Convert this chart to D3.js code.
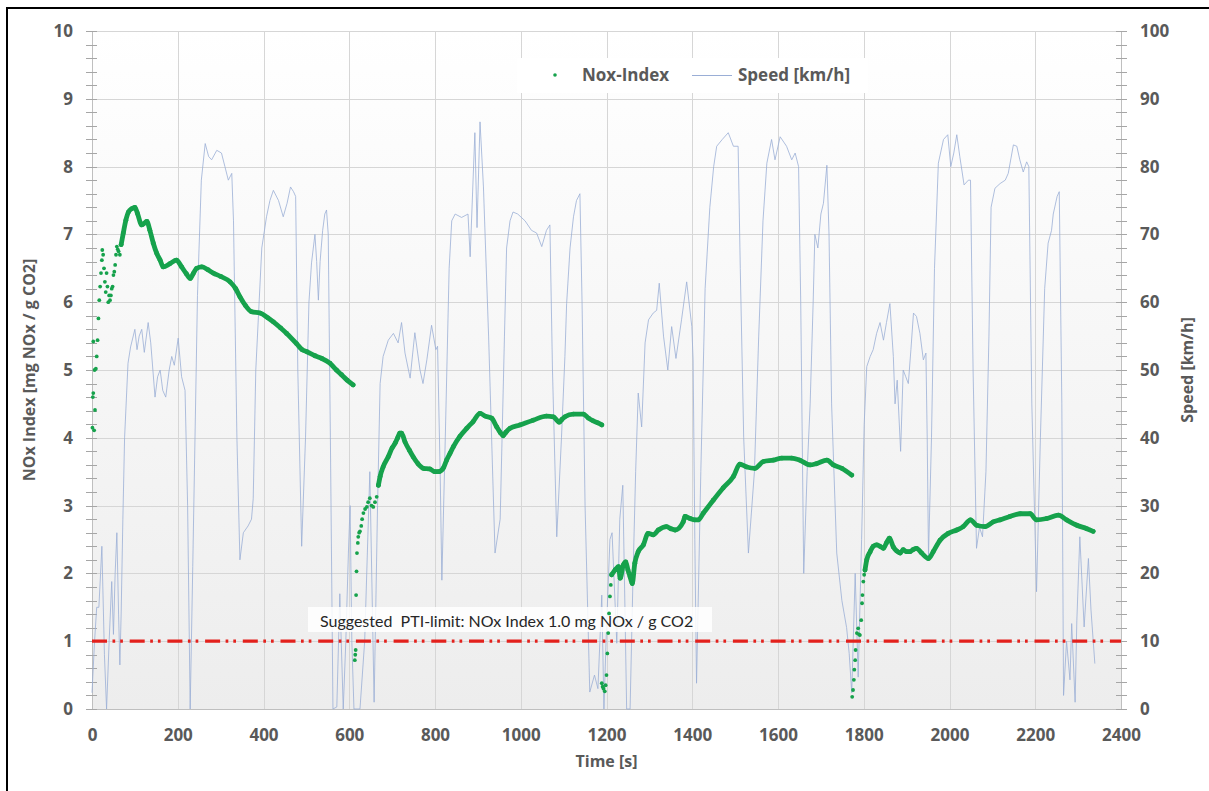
<!DOCTYPE html>
<html>
<head>
<meta charset="utf-8">
<script src="https://cdn.jsdelivr.net/npm/d3@7"></script>
<style>
  body { margin: 0; background: #fff; }
  svg { display: block; }
  text { font-family: "Open Sans", "DejaVu Sans", sans-serif; }
</style>
</head>
<body>
<svg id="chart" width="1209" height="791"></svg>
<script>
// ---- Data -------------------------------------------------------------
const timeTicks = [0, 200, 400, 600, 800, 1000, 1200, 1400, 1600, 1800, 2000, 2200, 2400];
const noxTicks = [0, 1, 2, 3, 4, 5, 6, 7, 8, 9, 10];
const speedTicks = [0, 10, 20, 30, 40, 50, 60, 70, 80, 90, 100];
const ptiLimit = 1.0;

// Vehicle speed [km/h] over time [s]
const speedTrace = [
  [0,2.4],[6,10],[11,15],[16,15],[20,20],[23,24],[29,8],[34,0],[40,10],[46,18.8],[50,11],[54,20],[58,26],
  [62,14],[65,6.5],[68,14],[72,28],[76,40],[84,51],[90,53.4],[100,56],[105,53],[110,55],[116,56],[122,52.6],
  [131,57],[137,54],[147,46],[153,49],[159,50],[165,47],[172,46],[180,50],[186,52],[192,50.7],[201,54.7],
  [209,49],[217,47],[223,30],[229,0],[235,21],[246,61],[255,78],[264,83.4],[272,81.5],[279,81],[291,82.4],
  [302,82],[310,80],[318,78],[326,79],[330,72],[338,40],[345,22],[353,26],[364,27],[372,28],[376,31],
  [382,50],[396,68],[407,72.6],[415,75],[423,76.5],[435,75],[446,72.6],[455,74.6],[463,77],[470,76.3],
  [475,75.6],[480,50],[489,24],[498,40],[506,60],[512,65.8],[520,70],[524,66],[528,60.3],[532,66],
  [538,70.6],[543,73],[547,73.6],[551,70],[556,40],[562,0],[571,0.3],[578,17],[586,0],[592,10],[598,23],
  [602,30],[606,10],[611,0],[625,0],[636,10],[648,35],[658,1],[666,30],[672,48],[679,52],[691,54.4],
  [703,55.4],[714,54],[722,57],[730,52.5],[742,48.8],[753,55.5],[765,50],[772,48],[781,51.5],[792,56.6],
  [802,53],[806,53.5],[812,35],[816,19],[824,40],[833,65],[839,72],[847,73],[862,72.5],[877,73],
  [882,66.7],[893,85],[898,71],[905,86.6],[913,77],[925,55],[940,23],[952,28],[962,55],[967,68],[975,72],
  [982,73.3],[993,73],[1010,72],[1025,70.6],[1037,70.2],[1049,68.2],[1060,70.6],[1068,71.4],[1074,50],
  [1084,25.4],[1095,40],[1103,52],[1107,59.8],[1115,68],[1123,72.6],[1130,75],[1138,76],[1143,60],
  [1150,30],[1161,2.5],[1172,5],[1180,3],[1189,16.8],[1194,0],[1200,12],[1208,25],[1213,26],[1224,9.7],
  [1231,28],[1238,33],[1243,15],[1247,0],[1255,0],[1262,20],[1268,35],[1274,46.6],[1282,41.6],[1290,54],
  [1298,57.4],[1309,58.4],[1317,58.8],[1323,62.8],[1333,55],[1343,50],[1352,56.4],[1362,51.7],[1375,57.4],
  [1387,63],[1399,56.4],[1402,51.5],[1406,25],[1410,3.8],[1420,35],[1430,62],[1441,74],[1450,80],
  [1457,83],[1470,84],[1484,85],[1496,83],[1507,83],[1512,65],[1520,40],[1531,23],[1545,35],[1555,55],
  [1565,72],[1574,80.5],[1585,84],[1593,81],[1605,84.4],[1620,83],[1632,81],[1640,82],[1648,80],
  [1653,60],[1660,20],[1668,35],[1675,45],[1682,60],[1686,70],[1693,68],[1700,73],[1706,74.6],[1714,80.2],
  [1719,70],[1725,45],[1737,23],[1749,16],[1760,12],[1766,8.2],[1772,2.4],[1780,20],[1787,4.7],[1795,25],
  [1801,42],[1807,50.5],[1815,52],[1822,53],[1830,55.4],[1838,57],[1846,54.4],[1853,57],[1861,59.8],
  [1869,52],[1873,45],[1878,48.5],[1886,38],[1892,50],[1898,49],[1904,48],[1910,53],[1916,58.4],
  [1923,57.9],[1931,55.4],[1939,51.5],[1945,52.5],[1948,40],[1951,22.5],[1958,40],[1965,65],[1974,80.5],
  [1986,84],[1996,84.7],[2003,80],[2010,82],[2017,84.7],[2024,81.5],[2034,77.3],[2044,78],[2049,78],
  [2055,50],[2063,23.7],[2070,26.8],[2077,25.4],[2085,35],[2092,55],[2097,74],[2106,76.8],[2118,77.5],
  [2130,78],[2137,79],[2149,83.2],[2157,83],[2164,81],[2172,79.2],[2180,80.7],[2185,80],[2192,45],
  [2203,17.3],[2212,40],[2222,62],[2230,68.7],[2238,70.6],[2242,73],[2251,75.6],[2256,76.3],[2262,45],
  [2266,2],[2273,10],[2281,4.3],[2285,12.6],[2293,1],[2297,13],[2304,25.4],[2314,12.1],[2324,22.2],
  [2330,14.6],[2339,6.7]
];

// NOx index [mg NOx / g CO2] – warm-up samples of each trip (scattered)
const noxWarmup = [
  [1,4.15],[2,4.6],[3,5.42],[3,4.66],[5,4.11],[6,5.0],[7,4.41],[9,5.02],[11,5.2],[13,5.44],[15,5.76],
  [17,6.03],[19,6.23],[21,6.43],[23,6.62],[24,6.77],[26,6.7],[28,6.5],[30,6.3],[32,6.15],[34,6.43],
  [36,6.23],[38,6.0],[40,6.1],[42,6.03],[44,6.1],[46,6.2],[48,6.23],[50,6.4],[52,6.45],[54,6.55],
  [56,6.7],[58,6.82],[60,6.78],[62,6.75],[65,6.7],[68,6.85],
  [613,0.72],[614,0.8],[615,0.87],[616,1.68],[617,2.03],[618,2.3],[620,2.45],[621,2.54],[623,2.6],
  [625,2.62],[628,2.7],[630,2.8],[633,2.89],[637,2.95],[641,2.98],[644,3.05],[648,3.11],[652,3.0],
  [656,2.98],[660,3.05],[664,3.13],[668,3.3],
  [1189,0.38],[1191,0.33],[1193,0.3],[1196,0.26],[1198,0.35],[1200,0.5],[1202,0.82],[1204,1.12],
  [1206,1.41],[1208,1.66],[1210,1.83],[1212,1.98],
  [1773,0.18],[1775,0.28],[1777,0.43],[1778,0.58],[1780,0.72],[1781,0.87],[1784,1.12],[1787,1.19],
  [1789,1.1],[1791,1.09],[1794,1.31],[1796,1.56],[1797,1.68],[1799,1.88],[1801,1.98],[1803,2.05]
];

// NOx index – running values once each trip has settled
const noxTrip1 = [
  [68,6.85],[73,7.02],[79,7.21],[85,7.33],[93,7.38],[100,7.4],[106,7.31],[116,7.14],[128,7.19],[135,7.06],
  [143,6.87],[151,6.72],[159,6.62],[166,6.52],[182,6.57],[197,6.62],[209,6.52],[220,6.42],[229,6.35],
  [236,6.42],[244,6.5],[256,6.52],[270,6.48],[283,6.43],[300,6.38],[322,6.3],[335,6.2],[345,6.08],
  [358,5.95],[372,5.86],[392,5.84],[410,5.77],[423,5.71],[440,5.62],[454,5.54],[477,5.39],[490,5.3],
  [501,5.27],[520,5.21],[536,5.17],[555,5.1],[570,5.0],[582,4.93],[595,4.85],[609,4.78]
];
const noxTrip2 = [
  [668,3.3],[672,3.43],[679,3.57],[691,3.72],[700,3.85],[707,3.92],[713,4.0],[718,4.07],[722,4.07],
  [730,3.94],[740,3.82],[749,3.72],[760,3.62],[773,3.55],[788,3.54],[800,3.5],[808,3.5],[819,3.55],
  [827,3.67],[835,3.77],[843,3.87],[858,4.02],[874,4.14],[889,4.24],[905,4.36],[917,4.32],[932,4.29],
  [944,4.16],[952,4.08],[959,4.03],[965,4.08],[975,4.14],[998,4.19],[1029,4.26],[1060,4.32],[1076,4.31],
  [1090,4.23],[1096,4.27],[1103,4.31],[1123,4.35],[1146,4.35],[1158,4.29],[1169,4.25],[1180,4.22],[1189,4.19]
];
const noxTrip3 = [
  [1212,1.98],[1220,2.05],[1228,2.1],[1232,1.93],[1239,2.12],[1245,2.17],[1250,2.05],[1255,1.95],
  [1260,1.85],[1266,2.15],[1274,2.32],[1286,2.42],[1297,2.59],[1309,2.57],[1321,2.64],[1340,2.69],
  [1350,2.66],[1360,2.64],[1379,2.76],[1383,2.84],[1395,2.81],[1406,2.79],[1414,2.79],[1426,2.89],
  [1449,3.08],[1472,3.26],[1496,3.43],[1511,3.61],[1527,3.57],[1546,3.55],[1566,3.65],[1589,3.67],
  [1609,3.7],[1632,3.7],[1651,3.67],[1675,3.6],[1690,3.62],[1714,3.67],[1729,3.6],[1749,3.55],[1772,3.45]
];
const noxTrip4 = [
  [1803,2.05],[1807,2.2],[1815,2.32],[1822,2.4],[1830,2.42],[1838,2.4],[1846,2.37],[1853,2.45],
  [1860,2.52],[1869,2.39],[1877,2.33],[1885,2.3],[1892,2.35],[1900,2.32],[1908,2.32],[1915,2.35],
  [1923,2.37],[1935,2.3],[1951,2.22],[1962,2.32],[1978,2.49],[1997,2.59],[2017,2.64],[2032,2.69],
  [2049,2.79],[2063,2.71],[2083,2.69],[2102,2.76],[2118,2.79],[2141,2.84],[2165,2.88],[2188,2.88],
  [2203,2.79],[2227,2.81],[2254,2.86],[2273,2.79],[2297,2.71],[2320,2.66],[2335,2.62]
];

// ---- Layout -----------------------------------------------------------
const plot = { left: 92, right: 1121, top: 31, bottom: 709 };
const green = "#16a24c";
const speedColor = "#9aaed6";
const axisGray = "#595959";

const svg = d3.select("#chart");

const x = d3.scaleLinear().domain([0, 2400]).range([plot.left, plot.right]);
const yNox = d3.scaleLinear().domain([0, 10]).range([plot.bottom, plot.top]);
const ySpeed = d3.scaleLinear().domain([0, 100]).range([plot.bottom, plot.top]);

// outer frame (top and left edges)
svg.append("line").attr("x1", 6).attr("x2", 1209).attr("y1", 8).attr("y2", 8)
  .attr("stroke", "#000").attr("stroke-width", 2);
svg.append("line").attr("x1", 7).attr("x2", 7).attr("y1", 7).attr("y2", 791)
  .attr("stroke", "#000").attr("stroke-width", 2);

// plot background gradient
const defs = svg.append("defs");
const grad = defs.append("linearGradient").attr("id", "plotBg")
  .attr("x1", 0).attr("y1", 0).attr("x2", 0).attr("y2", 1);
grad.append("stop").attr("offset", "0%").attr("stop-color", "#ffffff");
grad.append("stop").attr("offset", "100%").attr("stop-color", "#ededed");
svg.append("rect")
  .attr("x", plot.left).attr("y", plot.top)
  .attr("width", plot.right - plot.left).attr("height", plot.bottom - plot.top)
  .attr("fill", "url(#plotBg)");

// gridlines
const grid = svg.append("g").attr("stroke", "#d6d6d6").attr("stroke-width", 1);
grid.selectAll("line.v").data(timeTicks).join("line").attr("class", "v")
  .attr("x1", d => Math.round(x(d)) + 0.5).attr("x2", d => Math.round(x(d)) + 0.5)
  .attr("y1", plot.top).attr("y2", plot.bottom);
grid.selectAll("line.h").data(noxTicks).join("line").attr("class", "h")
  .attr("x1", plot.left).attr("x2", plot.right)
  .attr("y1", d => Math.round(yNox(d)) + 0.5).attr("y2", d => Math.round(yNox(d)) + 0.5);

// axis lines
svg.append("line").attr("x1", plot.left + 0.5).attr("x2", plot.left + 0.5)
  .attr("y1", plot.top).attr("y2", plot.bottom).attr("stroke", "#bfbfbf");
svg.append("line").attr("x1", plot.right + 0.5).attr("x2", plot.right + 0.5)
  .attr("y1", plot.top).attr("y2", plot.bottom).attr("stroke", "#bfbfbf");
svg.append("line").attr("x1", plot.left).attr("x2", plot.right)
  .attr("y1", plot.bottom + 0.5).attr("y2", plot.bottom + 0.5).attr("stroke", "#bfbfbf");

// minor tick marks crossing both value axes
const noxMinor = d3.range(0, 10.001, 0.2);
svg.append("g").selectAll("line").data(noxMinor).join("line")
  .attr("x1", plot.left - 6).attr("x2", plot.left + 5)
  .attr("y1", d => Math.round(yNox(d)) + 0.5).attr("y2", d => Math.round(yNox(d)) + 0.5)
  .attr("stroke", "#a6a6a6");
const speedMinor = d3.range(0, 100.01, 2);
svg.append("g").selectAll("line").data(speedMinor).join("line")
  .attr("x1", plot.right - 5).attr("x2", plot.right + 6)
  .attr("y1", d => Math.round(ySpeed(d)) + 0.5).attr("y2", d => Math.round(ySpeed(d)) + 0.5)
  .attr("stroke", "#a6a6a6");

// axes (labels only)
function styleAxis(g) {
  g.select(".domain").remove();
  g.selectAll("line").remove();
  g.selectAll("text").attr("fill", axisGray)
    .style("font-family", "'Open Sans', sans-serif")
    .style("font-weight", "700").style("font-size", "17px");
}
svg.append("g").attr("transform", `translate(${plot.left},0)`)
  .call(d3.axisLeft(yNox).tickValues(noxTicks).tickSize(0).tickPadding(19).tickFormat(d3.format("d")))
  .call(styleAxis);
svg.append("g").attr("transform", `translate(${plot.right},0)`)
  .call(d3.axisRight(ySpeed).tickValues(speedTicks).tickSize(0).tickPadding(19).tickFormat(d3.format("d")))
  .call(styleAxis);
svg.append("g").attr("transform", `translate(0,${plot.bottom})`)
  .call(d3.axisBottom(x).tickValues(timeTicks).tickSize(0).tickPadding(20).tickFormat(d3.format("d")))
  .call(styleAxis);

// axis titles
const titleStyle = s => s.attr("fill", axisGray)
  .style("font-family", "'Open Sans', sans-serif").style("font-weight", "700").style("font-size", "16px");
svg.append("text").attr("text-anchor", "middle")
  .attr("transform", `translate(35,${(plot.top + plot.bottom) / 2}) rotate(-90)`)
  .text("NOx Index [mg NOx / g CO2]").call(titleStyle);
svg.append("text").attr("text-anchor", "middle")
  .attr("transform", `translate(1193,${(plot.top + plot.bottom) / 2}) rotate(-90)`)
  .text("Speed [km/h]").call(titleStyle);
svg.append("text").attr("text-anchor", "middle")
  .attr("x", (plot.left + plot.right) / 2).attr("y", 767)
  .text("Time [s]").call(titleStyle);

// speed trace
const speedLine = d3.line().x(d => x(d[0])).y(d => ySpeed(d[1]));
svg.append("path").datum(speedTrace)
  .attr("d", speedLine)
  .attr("fill", "none").attr("stroke", speedColor).attr("stroke-width", 0.8)
  .attr("stroke-linejoin", "round");

// suggested PTI limit line
svg.append("line")
  .attr("x1", x(0)).attr("x2", x(2400))
  .attr("y1", yNox(ptiLimit)).attr("y2", yNox(ptiLimit))
  .attr("stroke", "#e3211c").attr("stroke-width", 3.2)
  .attr("stroke-dasharray", "15,5.5,2.7,5,2.7,6.8");

// annotation
const note = svg.append("g");
note.append("rect").attr("x", 308).attr("y", 607).attr("width", 404).attr("height", 25)
  .attr("fill", "#ffffff").attr("fill-opacity", 0.85);
note.append("text").attr("x", 320).attr("y", 627)
  .attr("fill", "#262626").style("white-space", "pre")
  .style("font-family", "Lato, sans-serif").style("font-size", "16px")
  .text("Suggested  PTI-limit: NOx Index 1.0 mg NOx / g CO2");

// NOx index: settled running values
const noxLine = d3.line().x(d => x(d[0])).y(d => yNox(d[1])).curve(d3.curveMonotoneX);
const trips = [noxTrip1, noxTrip2, noxTrip3, noxTrip4];
svg.append("g").selectAll("path").data(trips).join("path")
  .attr("d", noxLine)
  .attr("fill", "none").attr("stroke", green).attr("stroke-width", 4.8)
  .attr("stroke-linejoin", "round").attr("stroke-linecap", "round");
svg.append("g").selectAll("circle").data(trips.flat()).join("circle")
  .attr("cx", d => x(d[0])).attr("cy", d => yNox(d[1])).attr("r", 2.4).attr("fill", green);

// NOx index: warm-up samples
svg.append("g").selectAll("circle").data(noxWarmup).join("circle")
  .attr("cx", d => x(d[0])).attr("cy", d => yNox(d[1])).attr("r", 1.9).attr("fill", green);

// legend
const legend = svg.append("g");
legend.append("rect").attr("x", 517).attr("y", 58).attr("width", 351).attr("height", 35).attr("fill", "#ffffff");
legend.append("circle").attr("cx", 555).attr("cy", 75).attr("r", 1.8).attr("fill", green);
legend.append("text").attr("x", 582).attr("y", 81).text("Nox-Index")
  .attr("fill", axisGray).style("font-weight", "700").style("font-size", "17px");
legend.append("line").attr("x1", 692).attr("x2", 732).attr("y1", 75.5).attr("y2", 75.5)
  .attr("stroke", speedColor).attr("stroke-width", 1);
legend.append("text").attr("x", 738).attr("y", 81).text("Speed [km/h]")
  .attr("fill", axisGray).style("font-weight", "700").style("font-size", "17px");
</script>
</body>
</html>
